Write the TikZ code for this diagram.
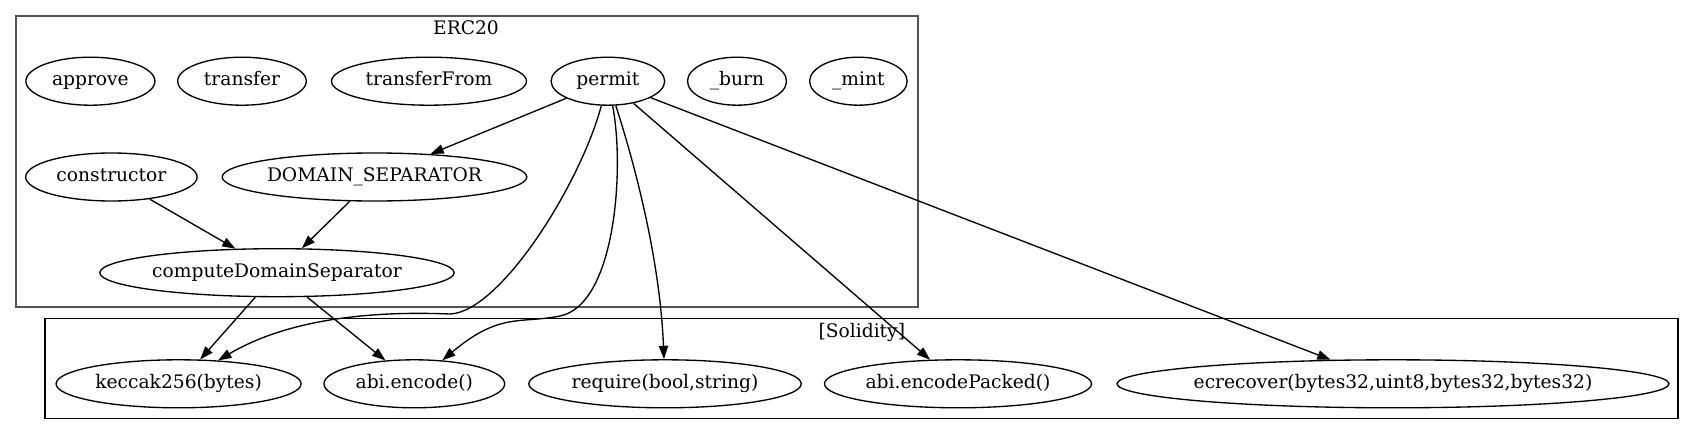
\documentclass[tikz,border=0pt]{standalone}
\usepackage{fontspec}
\setmainfont{DejaVu Serif}
\usetikzlibrary{shapes.geometric,arrows.meta}
\newcommand\zw[1]{\makebox[0pt]{#1}}
\begin{document}
\begin{tikzpicture}[x=0.75pt,y=-0.75pt,
  font=\fontsize{14}{17}\selectfont,
  fn/.style={ellipse, draw, line width=1pt, inner sep=0pt, minimum height=36pt,
             minimum width=#1*0.75pt, text height=10pt, text depth=3pt},
  lbl/.style={inner sep=0pt, text height=10pt, text depth=3pt},
  call/.style={line width=1pt, -{Triangle[length=10pt,width=7pt]}},
  clusterA/.style={draw=black!67, line width=1.5pt},
  clusterB/.style={draw=black, line width=1pt}]
\useasboundingbox (0,0) rectangle (1695,435);
% clusters
\draw[clusterA] (16,16) rectangle (917.5,307.3);
\draw[clusterB] (45,318.7) rectangle (1678,418.3);
\node[lbl] (lblA) at (466,30) {ERC20};
\node[lbl] (lblB) at (861.8,333) {[Solidity]};
% ERC20 functions
\node[fn=129]   (approve)  at (90.4,81.2)  {\zw{approve}};
\node[fn=128.6] (transfer) at (242,81.2)   {\zw{transfer}};
\node[fn=195]   (tfrom)    at (429,81.2)   {\zw{transferFrom}};
\node[fn=113.6] (permit)   at (607.9,81.2) {\zw{permit}};
\node[fn=99]    (burn)     at (737,81.2)   {\zw{\_burn}};
\node[fn=97.5]  (mint)     at (858.4,81.2) {\zw{\_mint}};
\node[fn=171.4] (ctor)     at (111.4,177)  {\zw{constructor}};
\node[fn=304.6] (ds)       at (374.5,177)  {\zw{DOMAIN\_SEPARATOR}};
\node[fn=354.3] (cds)      at (277,272.7)  {\zw{computeDomainSeparator}};
% Solidity builtins
\node[fn=245]   (kec)  at (178.6,383.8) {\zw{keccak256(bytes)}};
\node[fn=180.7] (enc)  at (414.3,383.8) {\zw{abi.encode()}};
\node[fn=272.5] (req)  at (665,383.8)   {\zw{require(bool,string)}};
\node[fn=267]   (encp) at (958,383.8)   {\zw{abi.encodePacked()}};
\node[fn=552]   (ecr)  at (1393,383.8)  {\zw{ecrecover(bytes32,uint8,bytes32,bytes32)}};
% waypoints
\coordinate (wA) at (450,314);
\coordinate (wB) at (560,316);
% edges
\draw[call] (permit) -- (ds);
\draw[call] (permit) .. controls (580,185) and (500,312) .. (wA)
                     .. controls (400,312) and (300,312) .. (kec);
\draw[call] (permit) .. controls (625,170) and (615,305) .. (wB)
                     .. controls (520,324) and (500,312) .. (enc);
\draw[call] (permit) .. controls (635,165) and (660,260) .. (req);
\draw[call] (permit) -- (encp);
\draw[call] (permit) -- (ecr);
\draw[call] (ctor) -- (cds);
\draw[call] (ds) -- (cds);
\draw[call] (cds) -- (kec);
\draw[call] (cds) -- (enc);
\end{tikzpicture}
\end{document}
